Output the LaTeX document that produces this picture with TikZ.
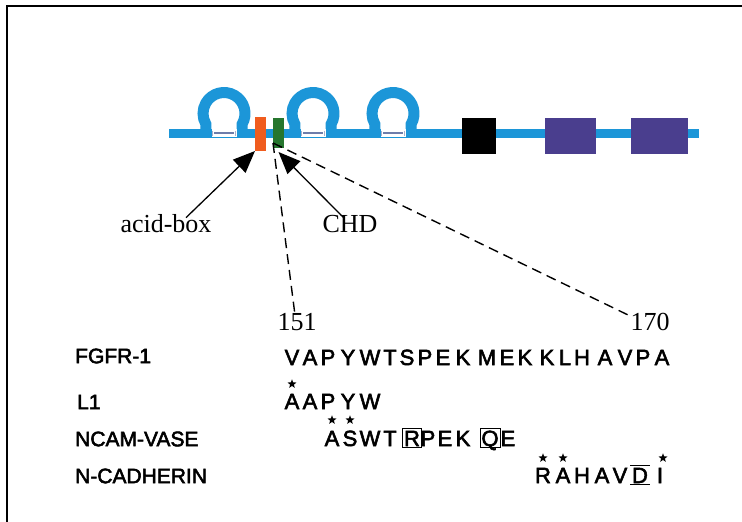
\documentclass[tikz,border=0pt]{standalone}
\usepackage{fontspec}
\setmainfont{Liberation Serif}
\newfontfamily\seqfont[FakeBold=2.5]{Liberation Sans}
\usetikzlibrary{arrows.meta,shapes.geometric}

\definecolor{bbblue}{RGB}{28,150,216}
\definecolor{acidorange}{RGB}{240,92,30}
\definecolor{chdgreen}{RGB}{38,118,46}
\definecolor{igpurple}{RGB}{74,62,142}
\definecolor{gapline}{RGB}{110,125,170}

\tikzset{
  domainbox/.style={inner sep=0, outer sep=0, anchor=north west},
  seq/.style={font=\seqfont\fontsize{22}{22}\selectfont, inner sep=0, text height=16pt, text depth=0pt},
  rowlabel/.style={font=\seqfont\fontsize{21}{21}\selectfont, inner sep=0, anchor=west},
  seriflabel/.style={font=\fontsize{26}{26}\selectfont, inner sep=1pt},
  mark star/.style={star, star points=5, star point ratio=2.4, fill=black, inner sep=0, minimum size=9.5pt},
  boxed/.style={draw, line width=0.6pt, inner sep=1.5pt},
  pointer/.style={line width=1.3pt, -{Triangle[length=22pt,width=18pt]}},
  guide/.style={line width=1.4pt, dash pattern=on 10pt off 6pt},
  loop/.style={line width=11pt, bbblue},
}

\begin{document}
\begin{tikzpicture}[x=1pt,y=1pt]
\useasboundingbox (0,0) rectangle (742,-522);
\fill[white] (0,0) rectangle (742,-522);

% frame
\draw[line width=2pt] (742,-6) -- (7,-6) -- (7,-522);

% protein backbone
\draw[line width=9pt, bbblue] (169,-133) -- (699,-133);

% three Ig-like loops with the gap they span
\foreach \cx in {224,313,393} {
  \draw[loop] (\cx+18.2,-133) -- (\cx+18.2,-124)
     arc[start angle=-30, end angle=210, radius=21] -- (\cx-18.2,-133);
  \fill[white] (\cx-12.5,-129.3) rectangle (\cx+12.5,-136.7);
  \draw[gapline, line width=1.4pt] (\cx-10,-133) -- (\cx+10,-133);
  \draw[gapline!60, line width=0.8pt] (\cx-11.5,-130.5) -- (\cx-11.5,-135.5)
                                     (\cx+11.5,-130.5) -- (\cx+11.5,-135.5);
}

% domain boxes
\node[domainbox, fill=acidorange, minimum width=11pt, minimum height=34pt] (acidbox) at (255,-117) {};
\node[domainbox, fill=chdgreen, minimum width=11pt, minimum height=30pt] (chd) at (273,-118) {};
\node[domainbox, fill=black, minimum width=34pt, minimum height=36pt] (tm) at (462,-118) {};
\node[domainbox, fill=igpurple, minimum width=51pt, minimum height=36pt] (kin1) at (545,-118) {};
\node[domainbox, fill=igpurple, minimum width=57pt, minimum height=36pt] (kin2) at (631,-118) {};

% labels
\node[seriflabel] (acidlbl) at (166,-224) {acid-box};
\node[seriflabel] (chdlbl) at (350,-224) {CHD};
\node[seriflabel] (n151) at (297,-322) {151};
\node[seriflabel] (n170) at (650,-322) {170};

% pointers
\draw[pointer] ([xshift=20pt,yshift=-4pt]acidlbl.north) -- (acidbox.south west);
\draw[pointer] ([xshift=-6pt,yshift=-4pt]chdlbl.north) -- ([yshift=-4pt]chd.south);
\draw[guide] ([yshift=5pt]chd.south west) -- ([xshift=-2pt,yshift=-3pt]n151.north);
\draw[guide] ([yshift=5pt]chd.south west) -- ([xshift=3pt,yshift=-5pt]n170.north west);

% row labels
\node[rowlabel] (lfgfr) at (75,-356) {FGFR-1};
\node[rowlabel] (ll1) at (77,-402) {L1};
\node[rowlabel] (lncam) at (75,-439) {NCAM-VASE};
\node[rowlabel] (lncad) at (75,-476) {N-CADHERIN};

% FGFR-1 sequence 151-170
\foreach \x/\c [count=\i] in {292/V,310/A,328/P,348/Y,370/W,390/T,407/S,425/P,443/E,463/K,
                             487/M,507/E,525/K,547/K,565/L,582/H,605/A,625/V,643/P,662/A}
  \node[seq] (f\i) at (\x,-357) {\c};

% L1
\foreach \x/\c [count=\i] in {292/A,310/A,328/P,348/Y,370/W}
  \node[seq] (l\i) at (\x,-401) {\c};
\node[mark star] (sl1) at (292,-384) {};

% NCAM-VASE
\foreach \x/\c [count=\i] in {332/A,350/S,370/W,390/T,428/P,445/E,463/K,508/E}
  \node[seq] (v\i) at (\x,-438) {\c};
\node[seq, boxed] (vr) at (412,-438) {R};
\node[seq, boxed] (vq) at (490,-438) {Q};
\node[mark star] (sv1) at (332,-420) {};
\node[mark star] (sv2) at (350,-420) {};

% N-CADHERIN
\foreach \x/\c [count=\i] in {543/R,563/A,582/H,602/A,620/V,660/I}
  \node[seq] (c\i) at (\x,-475) {\c};
\node[seq, inner sep=1.5pt] (cd) at (640,-475) {D};
\draw[line width=0.8pt] (cd.north west) -- (cd.north east);
\draw[line width=1.3pt] (cd.south west) -- (cd.south east);
\node[mark star] (sc1) at (543,-458) {};
\node[mark star] (sc2) at (563,-458) {};
\node[mark star] (sc3) at (663,-458) {};
\end{tikzpicture}
\end{document}
